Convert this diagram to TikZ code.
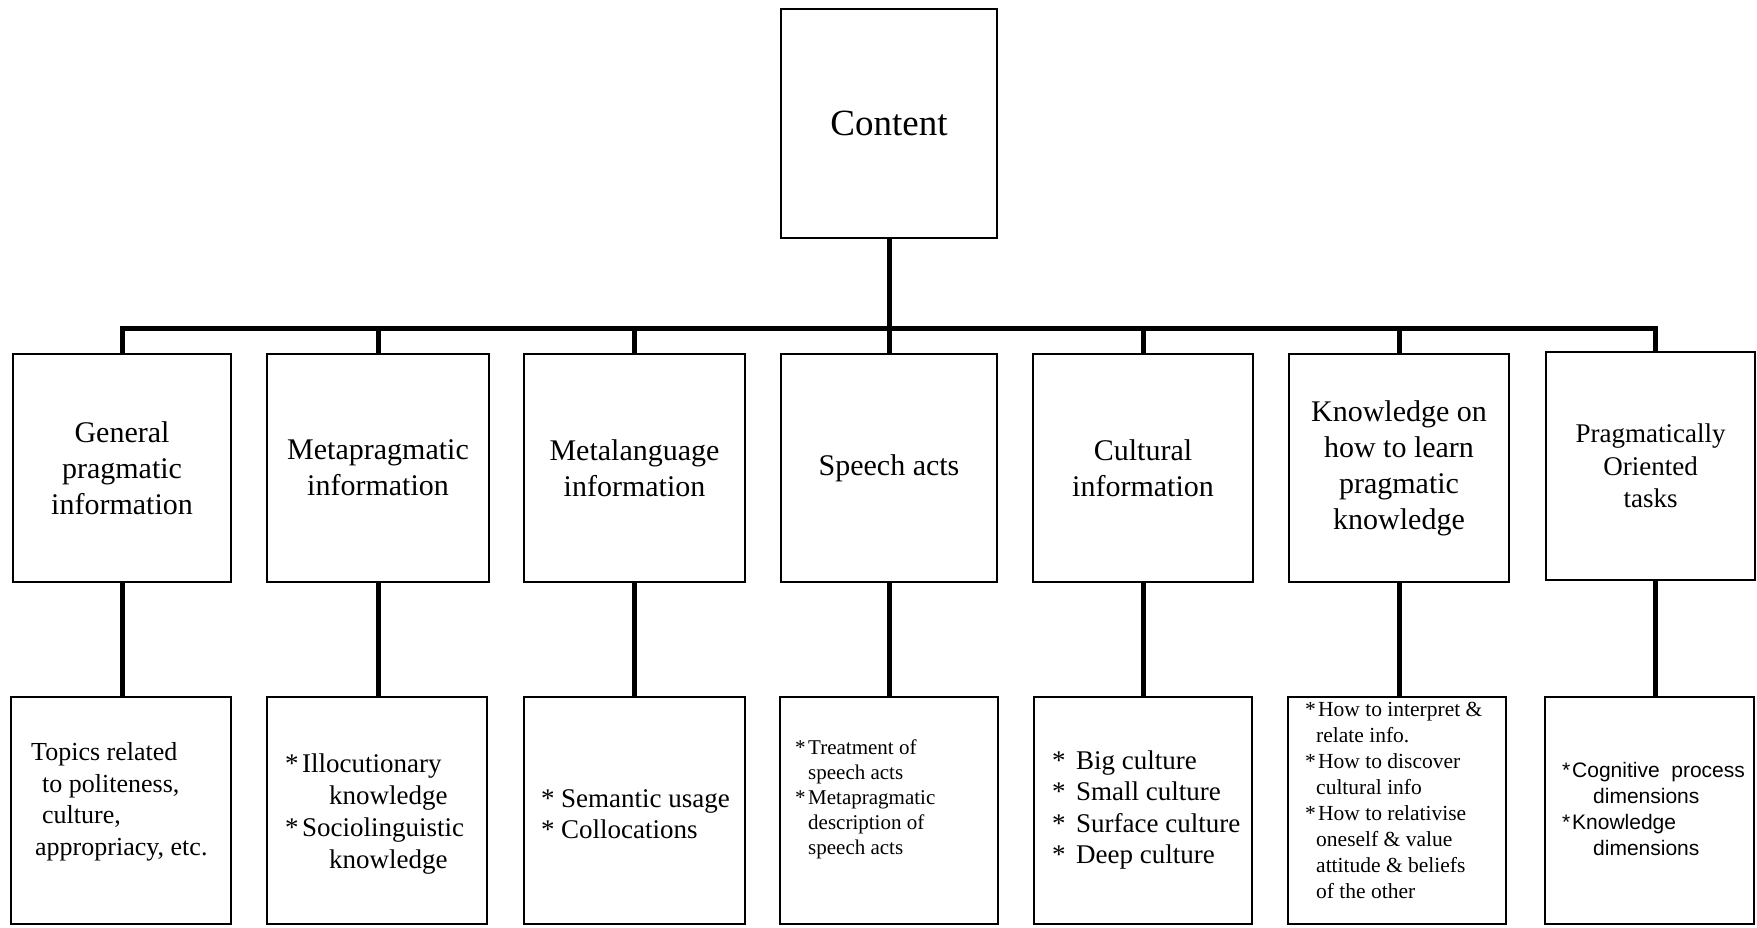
\documentclass[tikz,border=0pt]{standalone}
\usepackage{fontspec}
\setmainfont{Liberation Serif}
\newfontfamily\arialfont{Liberation Sans}
\newcommand\bul[1]{\makebox[#1][l]{*}}
\begin{document}
\begin{tikzpicture}[x=1pt,y=-1pt,
  box/.style={draw, line width=2.5pt, inner sep=0pt},
  conn/.style={line width=5pt, line join=miter},
  midtext/.style={font=\fontsize{30}{36}\selectfont, align=center},
  itemtext/.style={inner sep=0pt, anchor=west, align=left}]
\useasboundingbox (0,0) rectangle (1757,927);

% root
\node[box, minimum width=216pt, minimum height=229pt,
      font=\fontsize{37}{44}\selectfont] (content) at (889,123.5) {Content};

% second level
\node[box, midtext, minimum width=218pt, minimum height=228pt] (m1) at (122,468)
  {General\\pragmatic\\information};
\node[box, midtext, minimum width=222pt, minimum height=228pt] (m2) at (378,468)
  {Metapragmatic\\information};
\node[box, midtext, minimum width=221pt, minimum height=228pt] (m3) at (634.5,468)
  {Metalanguage\\information};
\node[box, midtext, minimum width=216pt, minimum height=228pt] (m4) at (889,468)
  {Speech acts};
\node[box, midtext, minimum width=220pt, minimum height=228pt] (m5) at (1143,468)
  {Cultural\\information};
\node[box, midtext, minimum width=220pt, minimum height=228pt] (m6) at (1399,468)
  {Knowledge on\\how to learn\\pragmatic\\knowledge};
\node[box, midtext, minimum width=209pt, minimum height=228pt,
      font=\fontsize{27}{32.5}\selectfont] (m7) at (1650.5,466)
  {Pragmatically\\Oriented\\tasks};

% third level frames
\node[box, minimum width=220pt, minimum height=227pt] (b1) at (121,810.5) {};
\node[box, minimum width=220pt, minimum height=227pt] (b2) at (377,810.5) {};
\node[box, minimum width=221pt, minimum height=227pt] (b3) at (634.5,810.5) {};
\node[box, minimum width=218pt, minimum height=227pt] (b4) at (889,810.5) {};
\node[box, minimum width=218pt, minimum height=227pt] (b5) at (1143,810.5) {};
\node[box, minimum width=218pt, minimum height=227pt] (b6) at (1397,810.5) {};
\node[box, minimum width=209pt, minimum height=227pt] (b7) at (1649.5,810.5) {};

% third level texts
\node[itemtext, font=\fontsize{26}{31.5}\selectfont] (t1) at (31,802)
  {Topics related\\\hspace*{11pt}to politeness,\\\hspace*{11pt}culture,\\\hspace*{4pt}appropriacy, etc.};
\node[itemtext, font=\fontsize{27}{31.7}\selectfont] (t2) at (285,814)
  {\bul{17pt}Illocutionary\\\hspace*{44pt}knowledge\\\bul{17pt}Sociolinguistic\\\hspace*{44pt}knowledge};
\node[itemtext, font=\fontsize{27}{31}\selectfont] (t3) at (541,814)
  {\bul{20pt}Semantic usage\\\bul{20pt}Collocations};
\node[itemtext, font=\fontsize{21}{25}\selectfont] (t4) at (795,799)
  {\bul{13pt}Treatment of\\\hspace*{13pt}speech acts\\\bul{13pt}Metapragmatic\\\hspace*{13pt}description of\\\hspace*{13pt}speech acts};
\node[itemtext, font=\fontsize{27}{31.5}\selectfont] (t5) at (1052,810)
  {\bul{24pt}Big culture\\\bul{24pt}Small culture\\\bul{24pt}Surface culture\\\bul{24pt}Deep culture};
\node[itemtext, font=\fontsize{21.5}{26}\selectfont] (t6) at (1305,800)
  {\bul{13pt}How to interpret \&\\\hspace*{11pt}relate info.\\\bul{13pt}How to discover\\\hspace*{11pt}cultural info\\\bul{13pt}How to relativise\\\hspace*{11pt}oneself \& value\\\hspace*{11pt}attitude \& beliefs\\\hspace*{11pt}of the other};
\node[itemtext, font=\arialfont\fontsize{21}{26}\selectfont] (t7) at (1562,809)
  {\bul{10pt}Cognitive\ \ process\\\hspace*{31pt}dimensions\\\bul{10pt}Knowledge\\\hspace*{31pt}dimensions};

% connectors
\coordinate (bus) at (889,328);
\draw[conn] (content.south) -- (content.south |- bus);
\draw[conn] (m1.north) -- (m1.north |- bus) -- ([xshift=4.5pt]m7.north |- bus) -- ([xshift=4.5pt]m7.north);
\foreach \m in {m2,m3,m4,m5,m6}
  \draw[conn] (\m.north) -- (\m.north |- bus);
\foreach \m/\b in {m1/b1,m2/b2,m3/b3,m4/b4,m5/b5,m6/b6}
  \draw[conn] (\m.south) -- (\m.south |- \b.north);
\draw[conn] ([xshift=4.5pt]m7.south) -- ([xshift=4.5pt]m7.south |- b7.north);
\end{tikzpicture}
\end{document}
